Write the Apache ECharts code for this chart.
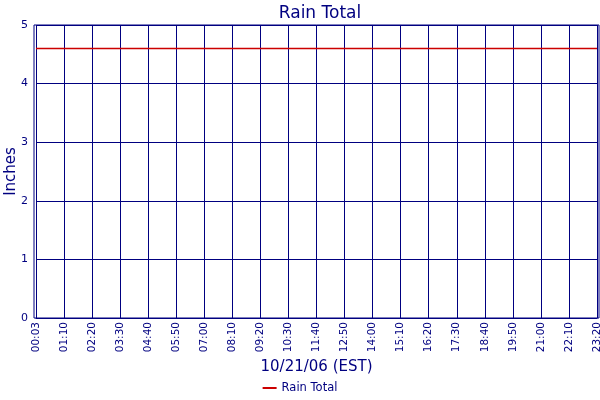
<!DOCTYPE html>
<html><head><meta charset="utf-8">
<script src="https://cdn.jsdelivr.net/npm/echarts@6/dist/echarts.min.js"></script>
<style>html,body{margin:0;padding:0;background:#fff}#c{width:600px;height:400px}</style>
</head><body><div id="c"></div>
<script>
const categories = ['00:03','01:10','02:20','03:30','04:40','05:50','07:00','08:10','09:20','10:30','11:40','12:50','14:00','15:10','16:20','17:30','18:40','19:50','21:00','22:10','23:20'];
const rainTotal = [4.6,4.6,4.6,4.6,4.6,4.6,4.6,4.6,4.6,4.6,4.6,4.6,4.6,4.6,4.6,4.6,4.6,4.6,4.6,4.6,4.6];
const yTicks = [0,1,2,3,4,5];
const NAVY = '#000080';
const FONT = 'DejaVu Sans';
const chart = echarts.init(document.getElementById('c'), null, {renderer:'canvas'});
chart.setOption({
  animation:false,
  title:{text:'Rain Total', left:315, top:0, textAlign:'center',
    textStyle:{color:NAVY, fontFamily:FONT, fontSize:17, fontWeight:'normal'}},
  legend:{bottom:1, left:'center', itemWidth:14, itemHeight:2, icon:'rect', itemGap:5,
    data:['Rain Total'], textStyle:{color:NAVY, fontFamily:FONT, fontSize:11.5}},
  grid:[
    {left:34, right:1, top:25, bottom:82, show:true, borderColor:NAVY, borderWidth:1,
      backgroundColor:'transparent', containLabel:false, outerBoundsMode:'none'},
    {left:36, right:3, top:25, bottom:82, containLabel:false, outerBoundsMode:'none'}
  ],
  xAxis:[
    {gridIndex:0, type:'value', show:false, min:0, max:1},
    {gridIndex:1, type:'category', data:categories, boundaryGap:false,
      name:'10/21/06 (EST)', nameLocation:'middle', nameGap:42, nameMoveOverlap:false,
      nameTextStyle:{color:NAVY, fontFamily:FONT, fontSize:15},
      axisLine:{show:true, lineStyle:{color:NAVY, width:1}},
      axisTick:{show:false},
      axisLabel:{rotate:90, color:NAVY, fontFamily:FONT, fontSize:10.5, margin:4, interval:0},
      splitLine:{show:true, lineStyle:{color:NAVY, width:1}}}
  ],
  yAxis:[
    {gridIndex:0, type:'value', show:false, min:0, max:1},
    {gridIndex:1, type:'value', min:yTicks[0], max:yTicks[yTicks.length-1], interval:1,
      name:'Inches', nameLocation:'middle', nameGap:17, nameRotate:90, nameMoveOverlap:false,
      nameTextStyle:{color:NAVY, fontFamily:FONT, fontSize:15},
      axisLine:{show:false},
      axisTick:{show:false},
      axisLabel:{color:NAVY, fontFamily:FONT, fontSize:11, margin:8},
      splitLine:{show:true, lineStyle:{color:NAVY, width:1}}}
  ],
  series:[{name:'Rain Total', type:'line', xAxisIndex:1, yAxisIndex:1, data:rainTotal,
    showSymbol:false, symbol:'none', itemStyle:{color:'#cc0000'}, lineStyle:{color:'#cc0000', width:1.5}}]
});
</script></body></html>
